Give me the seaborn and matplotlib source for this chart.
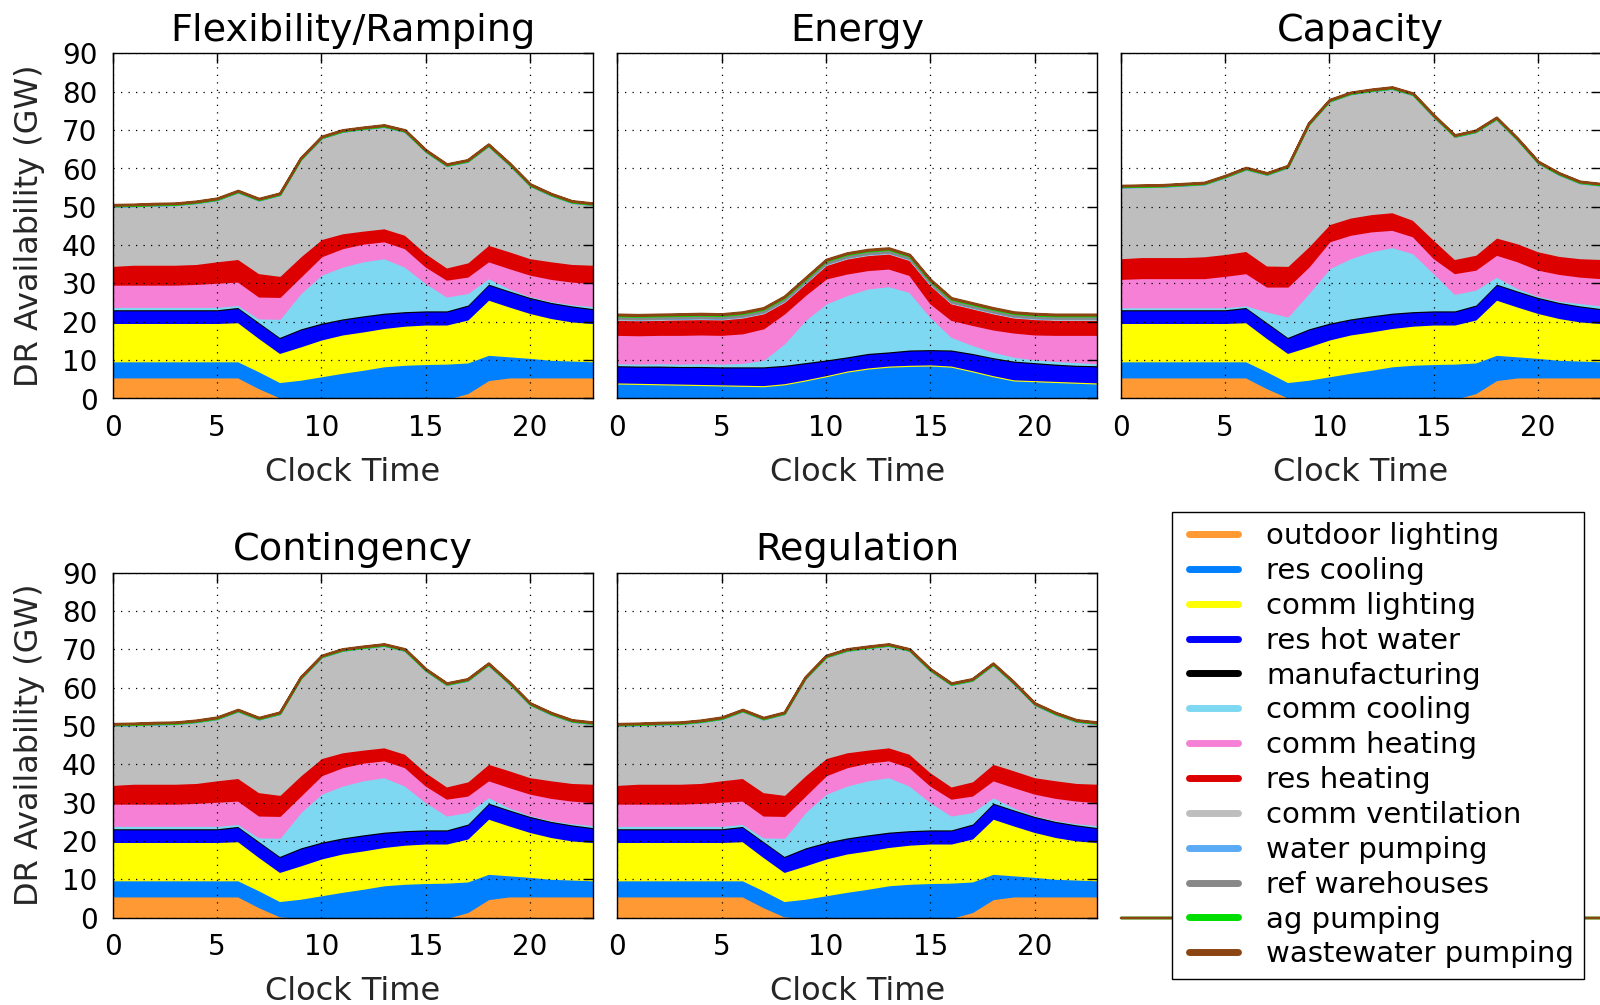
import numpy as np
import matplotlib
matplotlib.use("Agg")
import matplotlib.pyplot as plt
from matplotlib.lines import Line2D
from matplotlib.legend_handler import HandlerLine2D
import seaborn as sns

# ---------------------------------------------------------------- data
hours = list(range(24))

categories = ["outdoor lighting", "res cooling", "comm lighting", "res hot water",
              "manufacturing", "comm cooling", "comm heating", "res heating",
              "comm ventilation", "water pumping", "ref warehouses", "ag pumping",
              "wastewater pumping"]
colors = ["#ff9933", "#0080ff", "#ffff00", "#0000ff", "#000000", "#7fd8f2",
          "#f580d5", "#dd0000", "#bebebe", "#5aaaf5", "#888888", "#00dd00",
          "#8b4513"]

panel_titles = ["Flexibility/Ramping", "Energy", "Capacity", "Contingency", "Regulation"]
x_ticks = [0, 5, 10, 15, 20]
y_ticks = [0, 10, 20, 30, 40, 50, 60, 70, 80, 90]

# Flexibility/Ramping (Contingency and Regulation share these profiles), GW
flex_outdoor_lighting = [5.6, 5.6, 5.6, 5.6, 5.6, 5.6, 5.6, 2.8, 0.4, 0, 0, 0, 0, 0, 0, 0, 0, 1.5, 4.9, 5.6, 5.6, 5.6, 5.6, 5.6]
flex_res_cooling = [4.2, 4.2, 4.2, 4.2, 4.2, 4.2, 4.2, 4.4, 4.0, 5.0, 5.9, 6.8, 7.6, 8.5, 8.9, 9.1, 9.2, 8.0, 6.6, 5.5, 5.1, 4.6, 4.4, 4.2]
flex_comm_lighting = [10.0, 10.0, 10.0, 10.0, 10.0, 10.0, 10.2, 8.7, 7.6, 8.7, 9.6, 10.0, 10.0, 10.0, 10.2, 10.3, 10.2, 11.2, 14.4, 13.0, 11.7, 10.9, 10.2, 10.0]
flex_res_hot_water = [3.3, 3.3, 3.3, 3.3, 3.3, 3.3, 3.7, 3.9, 3.9, 4.4, 4.1, 3.9, 3.9, 3.7, 3.5, 3.4, 3.4, 3.6, 3.9, 3.9, 3.9, 3.9, 3.9, 3.6]
flex_manufacturing = [0.3, 0.3, 0.3, 0.3, 0.3, 0.3, 0.3, 0.3, 0.3, 0.3, 0.3, 0.3, 0.3, 0.3, 0.3, 0.3, 0.3, 0.3, 0.3, 0.3, 0.3, 0.3, 0.3, 0.3]
flex_comm_cooling = [0.6, 0.6, 0.6, 0.6, 0.6, 0.6, 0.5, 0.9, 4.7, 9.2, 12.5, 13.5, 14.1, 14.2, 11.6, 7.1, 3.6, 3.0, 1.4, 0.5, 0.2, 0.2, 0.3, 0.5]
flex_comm_heating = [5.8, 5.8, 5.8, 5.8, 6.0, 6.3, 6.1, 5.7, 5.7, 4.3, 4.8, 4.8, 4.6, 4.4, 4.8, 4.3, 4.4, 4.3, 4.4, 5.3, 5.6, 5.8, 5.9, 6.0]
flex_res_heating = [4.9, 5.2, 5.2, 5.2, 5.2, 5.6, 5.9, 6.1, 5.5, 5.3, 4.5, 3.9, 3.4, 3.4, 3.5, 3.5, 3.2, 3.7, 4.3, 4.4, 4.3, 4.6, 4.6, 4.8]
flex_comm_ventilation = [15.4, 15.2, 15.4, 15.5, 15.8, 15.9, 17.3, 18.9, 21.0, 25.1, 26.2, 26.4, 26.4, 26.4, 26.8, 26.4, 26.4, 26.2, 25.7, 22.5, 18.8, 17.1, 15.9, 15.5]
flex_water_pumping = [0.1, 0.1, 0.1, 0.1, 0.1, 0.1, 0.1, 0.1, 0.1, 0.1, 0.1, 0.1, 0.1, 0.1, 0.1, 0.1, 0.1, 0.1, 0.1, 0.1, 0.1, 0.1, 0.1, 0.1]
flex_ref_warehouses = [0.1, 0.1, 0.1, 0.1, 0.1, 0.1, 0.1, 0.1, 0.1, 0.1, 0.1, 0.1, 0.1, 0.1, 0.1, 0.1, 0.1, 0.1, 0.1, 0.1, 0.1, 0.1, 0.1, 0.1]
flex_ag_pumping = [0.15, 0.15, 0.15, 0.15, 0.15, 0.15, 0.15, 0.15, 0.15, 0.15, 0.15, 0.15, 0.15, 0.15, 0.15, 0.15, 0.15, 0.15, 0.15, 0.15, 0.15, 0.15, 0.15, 0.15]
flex_wastewater_pumping = [0.15, 0.15, 0.15, 0.15, 0.15, 0.15, 0.15, 0.15, 0.15, 0.15, 0.15, 0.15, 0.15, 0.15, 0.15, 0.15, 0.15, 0.15, 0.15, 0.15, 0.15, 0.15, 0.15, 0.15]

# Energy, GW
energy_outdoor_lighting = [0, 0, 0, 0, 0, 0, 0, 0, 0, 0, 0, 0, 0, 0, 0, 0, 0, 0, 0, 0, 0, 0, 0, 0]
energy_res_cooling = [4.0, 3.9, 3.8, 3.7, 3.6, 3.5, 3.4, 3.3, 3.8, 4.8, 5.9, 7.1, 7.9, 8.4, 8.6, 8.7, 8.4, 7.2, 5.9, 4.8, 4.6, 4.4, 4.2, 4.0]
energy_comm_lighting = [0.3, 0.3, 0.3, 0.3, 0.3, 0.3, 0.3, 0.3, 0.3, 0.3, 0.3, 0.3, 0.3, 0.3, 0.3, 0.3, 0.3, 0.3, 0.3, 0.3, 0.3, 0.3, 0.3, 0.3]
energy_res_hot_water = [4.2, 4.2, 4.3, 4.3, 4.4, 4.4, 4.5, 4.6, 4.5, 4.2, 3.8, 3.4, 3.5, 3.4, 3.7, 3.7, 3.9, 4.2, 4.4, 4.6, 4.4, 4.2, 4.1, 4.2]
energy_manufacturing = [0.3, 0.3, 0.3, 0.3, 0.3, 0.3, 0.3, 0.3, 0.3, 0.3, 0.3, 0.3, 0.3, 0.3, 0.3, 0.3, 0.3, 0.3, 0.3, 0.3, 0.3, 0.3, 0.3, 0.3]
energy_comm_cooling = [0.5, 0.5, 0.6, 0.6, 0.7, 0.7, 0.9, 1.7, 5.6, 11.0, 14.6, 16.0, 16.8, 17.0, 15.0, 8.4, 3.3, 2.1, 1.4, 1.0, 0.7, 0.7, 0.7, 0.5]
energy_comm_heating = [7.4, 7.4, 7.4, 7.5, 7.5, 7.5, 7.7, 8.2, 7.8, 6.5, 6.5, 5.6, 4.8, 4.6, 4.4, 3.5, 4.4, 5.2, 5.8, 6.3, 6.5, 6.8, 7.1, 7.4]
energy_res_heating = [3.9, 3.9, 3.9, 4.0, 4.0, 4.0, 4.1, 3.9, 3.0, 3.0, 3.5, 3.9, 3.9, 3.9, 3.9, 4.8, 4.3, 4.3, 4.2, 3.9, 4.0, 3.9, 3.9, 3.9]
energy_comm_ventilation = [0.2, 0.2, 0.2, 0.2, 0.2, 0.2, 0.2, 0.2, 0.2, 0.2, 0.2, 0.2, 0.2, 0.2, 0.2, 0.2, 0.2, 0.2, 0.2, 0.2, 0.2, 0.2, 0.2, 0.2]
energy_water_pumping = [0.1, 0.1, 0.1, 0.1, 0.1, 0.1, 0.1, 0.1, 0.1, 0.1, 0.1, 0.1, 0.1, 0.1, 0.1, 0.1, 0.1, 0.1, 0.1, 0.1, 0.1, 0.1, 0.1, 0.1]
energy_ref_warehouses = [0.7, 0.7, 0.7, 0.7, 0.7, 0.7, 0.7, 0.7, 0.7, 0.7, 0.7, 0.7, 0.7, 0.7, 0.7, 0.7, 0.7, 0.7, 0.7, 0.7, 0.7, 0.7, 0.7, 0.7]
energy_ag_pumping = [0.2, 0.2, 0.2, 0.2, 0.2, 0.2, 0.2, 0.2, 0.2, 0.2, 0.2, 0.2, 0.2, 0.2, 0.2, 0.2, 0.2, 0.2, 0.2, 0.2, 0.2, 0.2, 0.2, 0.2]
energy_wastewater_pumping = [0.2, 0.2, 0.2, 0.2, 0.2, 0.2, 0.2, 0.2, 0.2, 0.2, 0.2, 0.2, 0.2, 0.2, 0.2, 0.2, 0.2, 0.2, 0.2, 0.2, 0.2, 0.2, 0.2, 0.2]

# Capacity, GW (lighting, res cooling, hot water and manufacturing as Flexibility)
cap_comm_cooling = [0.5, 0.5, 0.5, 0.5, 0.5, 0.5, 0.4, 2.7, 5.3, 9.2, 14.2, 15.7, 16.7, 17.1, 15.1, 9.7, 4.3, 3.9, 1.8, 0.6, 0.3, 0.3, 0.6, 0.7]
cap_comm_heating = [7.4, 7.6, 7.6, 7.6, 7.6, 8.2, 8.4, 6.5, 7.8, 6.9, 7.0, 6.1, 5.2, 4.5, 4.4, 3.9, 5.4, 5.2, 5.7, 7.0, 6.8, 7.0, 6.9, 7.1]
cap_res_heating = [5.4, 5.5, 5.5, 5.5, 5.7, 5.7, 5.8, 5.5, 5.4, 5.3, 4.5, 4.5, 4.5, 4.6, 4.3, 4.8, 3.7, 3.9, 4.5, 4.7, 4.8, 4.7, 4.8, 5.0]
cap_comm_ventilation = [18.4, 18.2, 18.3, 18.6, 18.7, 19.9, 21.2, 23.6, 25.6, 31.6, 31.9, 32.1, 32.0, 32.1, 32.5, 32.0, 31.8, 31.9, 30.8, 26.9, 22.9, 21.1, 19.5, 19.1]

flex_layers = [flex_outdoor_lighting, flex_res_cooling, flex_comm_lighting, flex_res_hot_water,
               flex_manufacturing, flex_comm_cooling, flex_comm_heating, flex_res_heating,
               flex_comm_ventilation, flex_water_pumping, flex_ref_warehouses, flex_ag_pumping,
               flex_wastewater_pumping]
energy_layers = [energy_outdoor_lighting, energy_res_cooling, energy_comm_lighting, energy_res_hot_water,
                 energy_manufacturing, energy_comm_cooling, energy_comm_heating, energy_res_heating,
                 energy_comm_ventilation, energy_water_pumping, energy_ref_warehouses, energy_ag_pumping,
                 energy_wastewater_pumping]
cap_layers = [flex_outdoor_lighting, flex_res_cooling, flex_comm_lighting, flex_res_hot_water,
              flex_manufacturing, cap_comm_cooling, cap_comm_heating, cap_res_heating,
              cap_comm_ventilation, flex_water_pumping, flex_ref_warehouses, flex_ag_pumping,
              flex_wastewater_pumping]
panel_layers = [flex_layers, energy_layers, cap_layers, flex_layers, flex_layers]

# ---------------------------------------------------------------- style
sns.set_theme(style="white")
plt.rcParams["font.family"] = ["DejaVu Sans"]
plt.rcParams["axes.edgecolor"] = "black"
plt.rcParams["axes.linewidth"] = 1.0
plt.rcParams["text.color"] = "black"
plt.rcParams["xtick.color"] = "black"
plt.rcParams["ytick.color"] = "black"

TICK_SIZE = 20
LABEL_SIZE = 23
TITLE_SIZE = 27.5

fig = plt.figure(figsize=(16, 10.05), dpi=100)
W, H = 1600.0, 1005.0
col_left = [112.7, 617.3, 1120.7]
row_top = [53.5, 572.5]
ax_w, ax_h = 480.0, 345.0


def make_axes(r, c):
    return fig.add_axes([col_left[c] / W, 1 - (row_top[r] + ax_h) / H, ax_w / W, ax_h / H])


def stack(ax, layers):
    polys = ax.stackplot(hours, *layers, colors=colors, linewidth=1.3)
    for p, col in zip(polys, colors):
        p.set_edgecolor(col)
    # the pumping layers at the top form the outline of the stack
    polys[-2].set_linewidth(1.7)
    polys[-1].set_linewidth(1.7)
    return polys


slots = [(0, 0), (0, 1), (0, 2), (1, 0), (1, 1)]
for (r, c), title, layers in zip(slots, panel_titles, panel_layers):
    ax = make_axes(r, c)
    stack(ax, layers)
    ax.set_xlim(0, 23)
    ax.set_ylim(0, 90)
    ax.set_xticks(x_ticks)
    ax.set_yticks(y_ticks)
    ax.set_axisbelow(False)
    ax.grid(True, color="black", linestyle=(0, (1, 5)), linewidth=0.9)
    ax.tick_params(direction="in", top=True, right=True, length=7, width=1,
                   labelsize=TICK_SIZE, pad=11)
    ax.set_title(title, fontsize=TITLE_SIZE, pad=9)
    ax.set_xlabel("Clock Time", fontsize=LABEL_SIZE, labelpad=11)
    if c == 0:
        ax.set_ylabel("DR Availability (GW)", fontsize=LABEL_SIZE, labelpad=12)
    else:
        ax.tick_params(labelleft=False)
    for s in ax.spines.values():
        s.set_visible(True)
        s.set_color("black")

# legend panel: empty stack (all layers zero) with the category key
blank = [0] * len(hours)
ax_leg = make_axes(1, 2)
for p in stack(ax_leg, [blank] * len(categories)):
    p.set_clip_on(False)
ax_leg.set_xlim(0, 23)
ax_leg.set_ylim(0, 90)
ax_leg.axis("off")

handles = [Line2D([], [], color=col, linewidth=5, label=lab) for col, lab in zip(colors, categories)]
fig.legend(handles=handles, loc="upper left", bbox_to_anchor=(1171.5 / W, 1 - 512 / H),
           bbox_transform=fig.transFigure, borderaxespad=0, fontsize=21,
           frameon=True, fancybox=False, edgecolor="black", framealpha=1,
           labelspacing=0.235, handlelength=1.92, handletextpad=0.98, borderpad=0.35,
           handler_map={Line2D: HandlerLine2D(xpad=0.25)})

fig.savefig("out.png", dpi=100)
